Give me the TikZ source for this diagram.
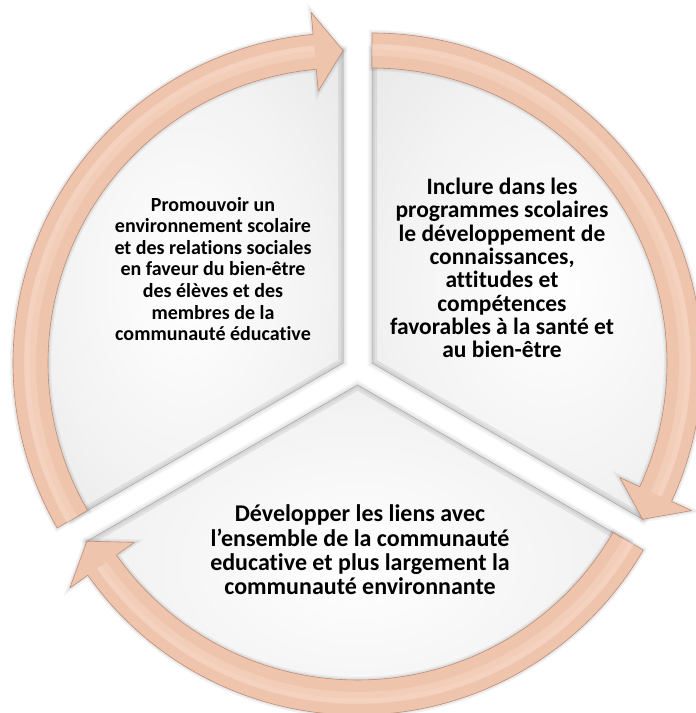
\documentclass[tikz,border=0pt]{standalone}
\usepackage{fontspec}
\setmainfont{Carlito}[Ligatures=NoCommon]
\usetikzlibrary{calc}
\definecolor{peach}{HTML}{EFC4AC}
\definecolor{peachdark}{HTML}{C08E77}
\definecolor{peachlight}{HTML}{FAE0D0}
\pgfdeclareradialshading{secshade}{\pgfpoint{0bp}{0bp}}{color(0bp)=(white); color(22bp)=(white!95!black); color(42bp)=(white!89!black); color(50bp)=(white!82!black)}
\tikzset{
  sectorfill/.style={shading=secshade},
  sectorline/.style={draw=black!35, line width=0.5pt},
  arrowfill/.style={fill=peach, draw=peachdark, line width=0.6pt, line join=round},
  label/.style={align=center, text=black, inner sep=0pt},
}
% #1 apex, #2 start angle, #3 end angle
\newcommand\sectorpath[3]{(#1) -- ($(#1)+(#2:313pt)$) arc[start angle=#2, end angle=#3, radius=313pt] -- cycle}
\newcommand\arrowpath[3]{($(#1)+(#2:330pt)$) arc[start angle=#2, end angle=#3+5.2, radius=330pt] -- ($(#1)+(#3+5.2:352pt)$) -- ($(#1)+(#3:312.5pt)$) -- ($(#1)+(#3+5.2:273pt)$) -- ($(#1)+(#3+5.2:295pt)$) arc[start angle=#3+5.2, end angle=#2, radius=295pt] -- cycle}
\newcommand\drawsector[3]{%
  \foreach \w in {9,6,3}{\fill[black, opacity=0.035, line width=\w pt, draw=black, draw opacity=0.035, shift={(2pt,-3pt)}] \sectorpath{#1}{#2}{#3};}
  \shade[sectorfill] \sectorpath{#1}{#2}{#3};
  \begin{scope}
    \clip \sectorpath{#1}{#2}{#3};
    \draw[black, opacity=0.07, line width=10pt] \sectorpath{#1}{#2}{#3};
    \draw[black, opacity=0.05, line width=5pt] \sectorpath{#1}{#2}{#3};
  \end{scope}
  \draw[sectorline] \sectorpath{#1}{#2}{#3};
}
\newcommand\drawarrow[3]{%
  \foreach \w in {6,3}{\filldraw[black, opacity=0.05, line width=\w pt, shift={(2pt,-4pt)}] \arrowpath{#1}{#2}{#3};}
  \filldraw[arrowfill] \arrowpath{#1}{#2}{#3};
  \draw[peachlight, opacity=0.35, line width=12pt] ($(#1)+(#2:313pt)$) arc[start angle=#2, end angle=#3+5.2, radius=313pt];
  \draw[peachlight, opacity=0.3, line width=5pt] ($(#1)+(#2:316pt)$) arc[start angle=#2, end angle=#3+5.2, radius=316pt];
}
\begin{document}
\begin{tikzpicture}[x=1pt, y=1pt]
\useasboundingbox (0,0) rectangle (696,713);
\fill[white] (0,0) rectangle (696,713);
\coordinate (L) at (343,350);
\coordinate (R) at (372,350);
\coordinate (B) at (357.5,328);

\drawsector{L}{90}{210}
\drawsector{R}{-30}{90}
\drawsector{B}{210}{330}

\drawarrow{L}{210}{90}
\drawarrow{R}{90}{-30}
\drawarrow{B}{-30}{-150}

\node[label, font=\bfseries\fontsize{20}{21.6}\selectfont] (tl) at (213,444) {Promouvoir un\\environnement scolaire\\et des relations sociales\\en faveur du bien-être\\des élèves et des\\membres de la\\communauté éducative};
\node[label, font=\bfseries\fontsize{23.5}{23.3}\selectfont] (tr) at (502,445) {Inclure dans les\\programmes scolaires\\le développement de\\connaissances,\\attitudes et\\compétences\\favorables à la santé et\\au bien-être};
\node[label, font=\bfseries\fontsize{24}{24.4}\selectfont] (bt) at (360,163) {Développer les liens avec\\l’ensemble de la communauté\\educative et plus largement la\\communauté environnante};
\end{tikzpicture}
\end{document}
